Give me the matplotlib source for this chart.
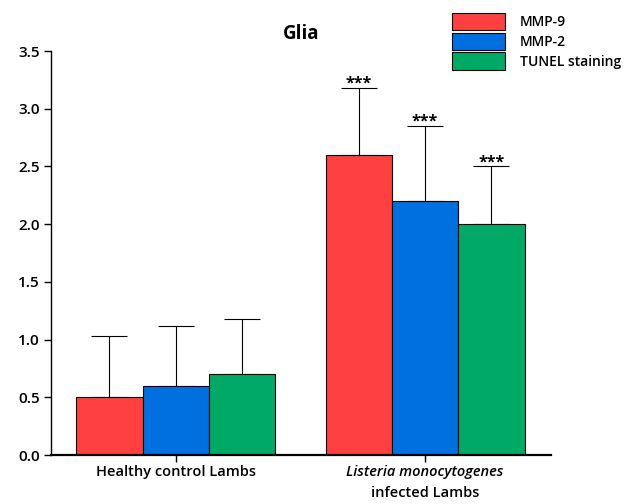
import matplotlib
matplotlib.use("Agg")
import matplotlib.pyplot as plt
import numpy as np
from matplotlib.patches import Patch

plt.rcParams['font.family'] = ['Open Sans', 'DejaVu Sans']

groups = ["Healthy control Lambs", "Listeria monocytogenes\ninfected Lambs"]
series = ["MMP-9", "MMP-2", "TUNEL staining"]
values = {
    "MMP-9": [0.5, 2.6],
    "MMP-2": [0.6, 2.2],
    "TUNEL staining": [0.7, 2.0],
}
errors = {
    "MMP-9": [0.53, 0.58],
    "MMP-2": [0.52, 0.65],
    "TUNEL staining": [0.48, 0.50],
}
stars = ["", "***"]
colors = ["#FF4040", "#0070E0", "#00AA66"]

fig = plt.figure(figsize=(6.25, 5.04), dpi=100)
ax = fig.add_axes([0.0816, 0.0972, 0.80, 0.8016])

x = np.arange(len(groups))
w = 0.266
for i, s in enumerate(series):
    pos = x + (i - 1) * w
    ax.bar(pos, values[s], width=w, color=colors[i], edgecolor="black", linewidth=0.8, zorder=2)
    ax.errorbar(pos, values[s], yerr=[np.zeros(len(groups)), errors[s]], fmt="none",
                ecolor="black", elinewidth=0.8, capsize=13, capthick=0.8, zorder=1)
    for j in range(len(groups)):
        if stars[j]:
            ax.text(pos[j], values[s][j] + errors[s][j] - 0.035, stars[j], ha="center", va="bottom",
                    fontsize=11.5, fontweight="bold")

ax.set_xlim(-0.5, 1.505)
ax.set_ylim(0, 3.5)
ax.set_yticks(np.arange(0, 3.51, 0.5))
ax.set_yticklabels([f"{v:.1f}" for v in np.arange(0, 3.51, 0.5)], fontsize=11, fontweight="semibold")
ax.set_xticks(x)
ax.set_xticklabels([])
ax.text(0, -0.09, groups[0], ha="center", va="top", fontsize=10.5, fontweight="semibold",
        transform=ax.transData)
ax.text(1, -0.09, "Listeria monocytogenes", ha="center", va="top", fontsize=10.5, style="italic",
        fontweight="semibold", transform=ax.transData)
ax.text(1, -0.27, "infected Lambs", ha="center", va="top", fontsize=10.5, fontweight="semibold",
        transform=ax.transData)
ax.spines["top"].set_visible(False)
ax.spines["right"].set_visible(False)
ax.spines["left"].set_linewidth(1.0)
ax.spines["bottom"].set_linewidth(1.6)
ax.tick_params(axis="y", length=5, width=1.0, pad=3)
ax.tick_params(axis="x", length=5, width=1.0)
ax.set_title("Glia", fontsize=13.5, fontweight="bold", pad=9)

handles = [Patch(facecolor=c, edgecolor="black", linewidth=0.8) for c in colors]
fig.legend(handles, series, loc="upper left", bbox_to_anchor=(0.7232, 0.975), frameon=False,
           prop={"size": 10, "weight": "semibold"}, handlelength=3.8, handleheight=1.6,
           labelspacing=0.15, handletextpad=1.1, borderaxespad=0, borderpad=0)

fig.savefig("out.png", dpi=100)
